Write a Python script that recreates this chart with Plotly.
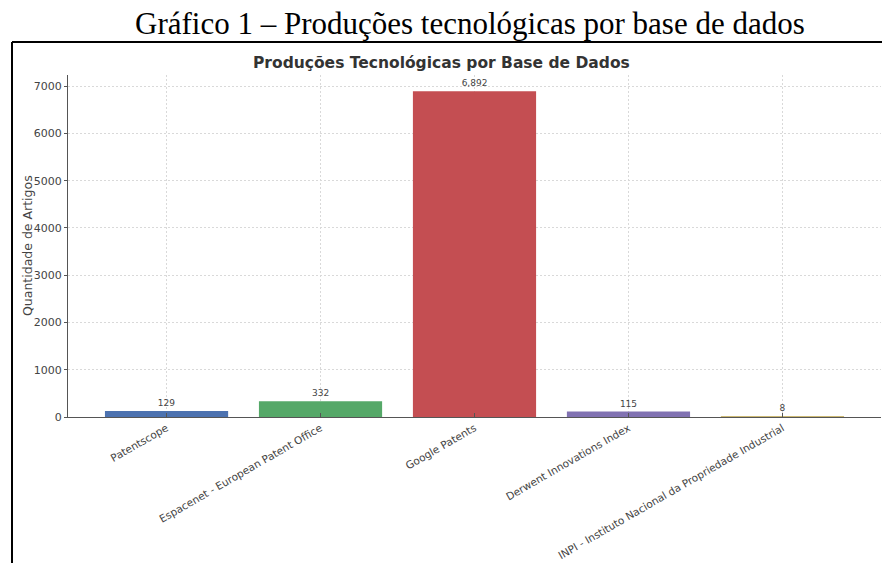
import plotly.graph_objects as go

categories = ["Patentscope", "Espacenet - European Patent Office", "Google Patents",
              "Derwent Innovations Index", "INPI - Instituto Nacional da Propriedade Industrial"]
values = [129, 332, 6892, 115, 8]
colors = ["#4C72B0", "#55A868", "#C44E52", "#8172B2", "#CCB974"]
y_ticks = [0, 1000, 2000, 3000, 4000, 5000, 6000, 7000]

W, H = 882, 563
L, R, T, B = 68, 881, 75, 417  # plot area in pixels

def px_x(p):
    return (p - L) / (R - L)

def px_y(p):
    return (B - p) / (B - T)

fig = go.Figure()
fig.add_trace(go.Bar(
    x=list(range(len(categories))), y=values,
    marker=dict(color=colors, line=dict(width=0)),
    width=0.8,
    text=[f"{v:,}" for v in values], textposition="outside",
    outsidetextfont=dict(family="DejaVu Sans", size=9, color="#444"),
    cliponaxis=False,
))

grid_col = "#d9d9d9"
fig.update_layout(
    width=W, height=H,
    margin=dict(l=L, r=W - R, t=T, b=H - B, pad=0),
    paper_bgcolor="white", plot_bgcolor="white",
    showlegend=False,
    font=dict(family="DejaVu Sans", color="#333"),
    xaxis=dict(
        range=[-0.64, 4.64], tickmode="array",
        tickvals=list(range(len(categories))), ticktext=categories,
        tickangle=-30, tickfont=dict(size=10.5, color="#444"),
        showline=True, linecolor="#555", linewidth=1.3,
        showgrid=True, gridcolor=grid_col, griddash="2px,2px", gridwidth=0.8,
        ticks="inside", ticklen=4, tickcolor="#555", zeroline=False,
    ),
    yaxis=dict(
        range=[0, 7237], tickmode="array", tickvals=y_ticks,
        tickfont=dict(size=11, color="#444"),
        showline=True, linecolor="#555", linewidth=1.3,
        showgrid=True, gridcolor=grid_col, griddash="2px,2px", gridwidth=0.8,
        ticks="outside", ticklen=3, tickcolor="#555", zeroline=False,
    ),
)

# y-axis title
fig.add_annotation(text="Quantidade de Artigos", xref="paper", yref="paper",
                   x=px_x(27), y=px_y(246), textangle=-90,
                   xanchor="center", yanchor="middle", showarrow=False,
                   font=dict(family="DejaVu Sans", size=12.5, color="#444"))

# outer frame of the embedded figure
fig.add_shape(type="line", xref="paper", yref="paper",
              x0=px_x(12), x1=px_x(12), y0=px_y(42), y1=px_y(H + 2),
              line=dict(color="black", width=2))
fig.add_shape(type="line", xref="paper", yref="paper",
              x0=px_x(12), x1=px_x(W + 2), y0=px_y(42), y1=px_y(42),
              line=dict(color="black", width=2))

# caption
fig.add_annotation(text="Gráfico 1 – Produções tecnológicas por base de dados",
                   xref="paper", yref="paper", x=px_x(470), y=px_y(24),
                   xanchor="center", yanchor="middle", showarrow=False,
                   font=dict(family="Liberation Serif", size=31, color="black"))
# chart title
fig.add_annotation(text="<b>Produções Tecnológicas por Base de Dados</b>",
                   xref="paper", yref="paper", x=px_x(441), y=px_y(63),
                   xanchor="center", yanchor="middle", showarrow=False,
                   font=dict(family="DejaVu Sans", size=15.5, color="#333"))

fig.write_html("out.html")
